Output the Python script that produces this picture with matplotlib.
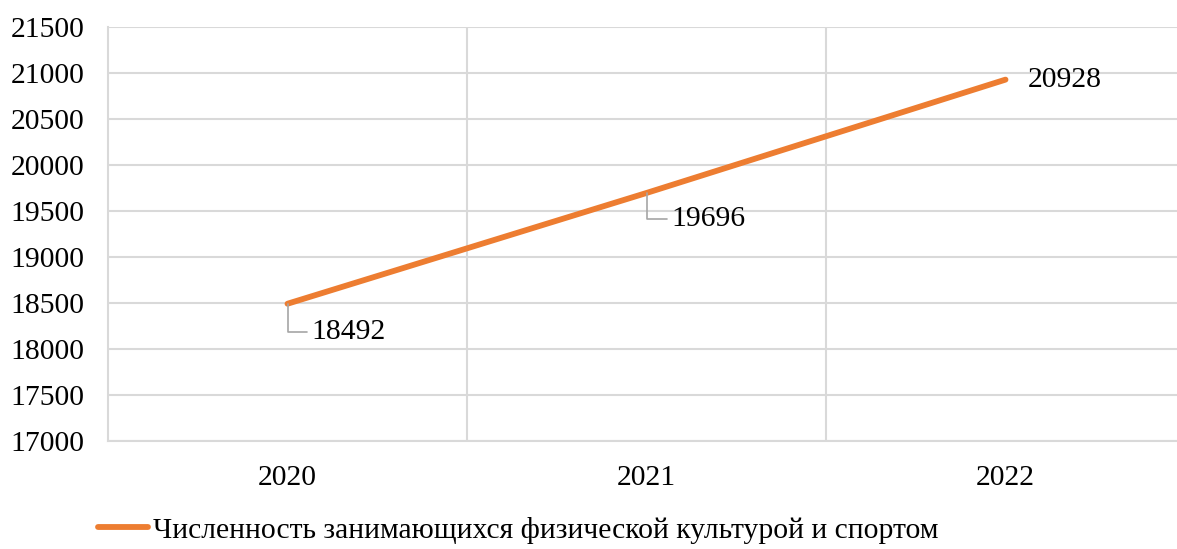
import matplotlib as mpl
import matplotlib.pyplot as plt
import numpy as np

mpl.rcParams['font.family'] = ['Liberation Serif', 'DejaVu Serif']

# data
years = ['2020', '2021', '2022']
values = [18492, 19696, 20928]
series_name = 'Численность занимающихся физической культурой и спортом'

LINE_COLOR = '#ED7D31'
GRID_COLOR = '#D9D9D9'
LEADER_COLOR = '#A6A6A6'
FS = 21.3

fig = plt.figure(figsize=(11.77, 5.49), dpi=100)
ax = fig.add_axes([108 / 1177, 1 - 441 / 549, 1077 / 1177, 414 / 549])

x = np.arange(len(years))
line, = ax.plot(x, values, color=LINE_COLOR, lw=4.2, solid_capstyle='round',
                label=series_name, zorder=3)

ax.set_xlim(-0.5, len(years) - 0.5)
ax.set_ylim(17000, 21500)
ax.set_yticks(np.arange(17000, 21501, 500))
ax.set_xticks(x)
ax.set_xticklabels(years)
ax.tick_params(axis='both', length=0, labelsize=FS)
ax.tick_params(axis='y', pad=17)
ax.tick_params(axis='x', pad=17)

# grid: horizontal at each tick, vertical between categories
ax.grid(axis='y', color=GRID_COLOR, lw=1.5, zorder=0)
for xb in np.arange(0.5, len(years) - 1, 1.0):
    ax.axvline(xb, color=GRID_COLOR, lw=1.5, zorder=0)
for side in ['top', 'right']:
    ax.spines[side].set_visible(False)
for side in ['left', 'bottom']:
    ax.spines[side].set_color(GRID_COLOR)
    ax.spines[side].set_linewidth(1.5)

# data labels
offsets = [(17, -20), (18, -19), (16, 0)]
for xi, v, (dx, dy) in zip(x, values, offsets):
    props = None
    if dy != 0:
        props = dict(arrowstyle='-', color=LEADER_COLOR, lw=1.2,
                     connectionstyle='angle,angleA=0,angleB=90,rad=0',
                     shrinkA=1, shrinkB=0)
    ax.annotate(str(v), xy=(xi, v), xytext=(dx, dy), textcoords='offset points',
                ha='left', va='center', fontsize=FS, arrowprops=props,
                annotation_clip=False)

fig.legend(handles=[line], loc='center left',
           bbox_to_anchor=(98 / 1177, 1 - 530 / 549), frameon=False,
           fontsize=FS, handlelength=1.7, handletextpad=0.15, borderpad=0,
           borderaxespad=0)

fig.savefig('out.png', dpi=100)
